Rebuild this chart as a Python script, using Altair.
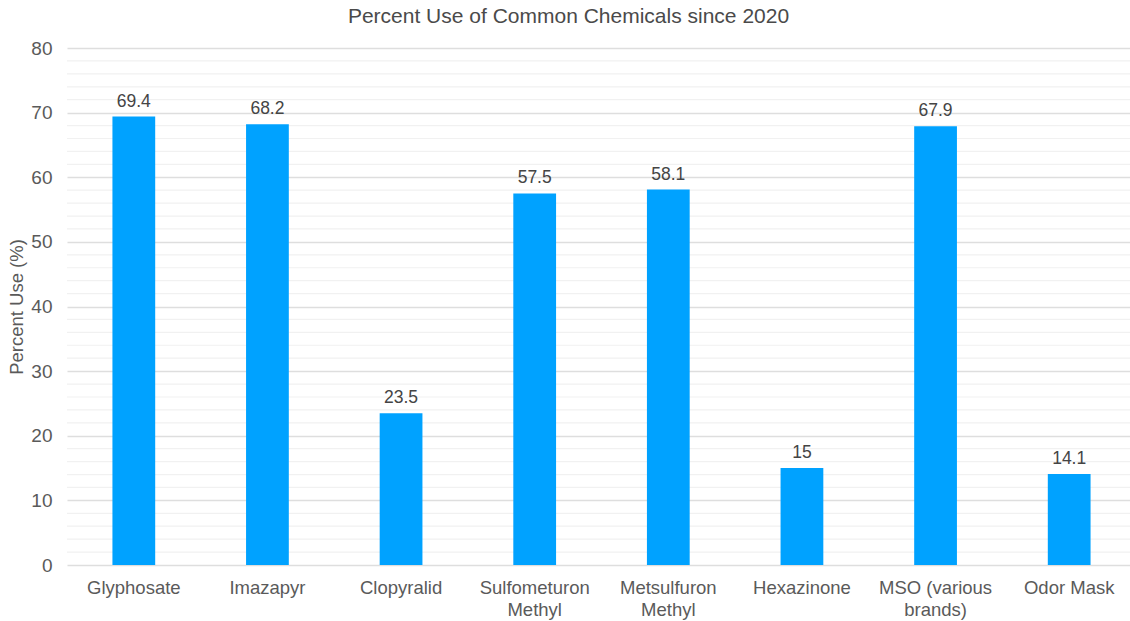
import altair as alt
import pandas as pd

categories = ["Glyphosate", "Imazapyr", "Clopyralid", "Sulfometuron\nMethyl",
              "Metsulfuron\nMethyl", "Hexazinone", "MSO (various\nbrands)", "Odor Mask"]
values = [69.4, 68.2, 23.5, 57.5, 58.1, 15, 67.9, 14.1]
labels = ["69.4", "68.2", "23.5", "57.5", "58.1", "15", "67.9", "14.1"]
major_ticks = list(range(0, 81, 10))
minor_ticks = [v for v in range(2, 80, 2) if v % 10 != 0]

df = pd.DataFrame({"cat": categories, "val": values, "lab": labels})
minor_df = pd.DataFrame({"g": minor_ticks})

FONT = "Liberation Sans"
W = 1063

x = alt.X("cat:N", sort=categories, title=None,
          scale=alt.Scale(range=[0, 1069], paddingInner=0.68, paddingOuter=0.34),
          axis=alt.Axis(labelExpr="split(datum.label, '\\n')", labelAngle=0,
                        labelFontSize=18.5, labelColor="#5a5a5a", labelFont=FONT,
                        ticks=False, domain=False, labelPadding=13, labelLineHeight=22))
yscale = alt.Scale(domain=[0, 80], nice=False)
yaxis = alt.Axis(values=major_ticks, labelOverlap=False,
                 gridColor="#dedede", gridWidth=1.3,
                 ticks=False, domain=False, labelPadding=15,
                 labelFontSize=19, labelColor="#5a5a5a", labelFont=FONT,
                 titleFontSize=18.5, titleColor="#5a5a5a", titleFont=FONT,
                 titleFontWeight="normal", titlePadding=4)

minor = alt.Chart(minor_df).mark_rule(color="#f1f1f1", strokeWidth=1.2).encode(
    y=alt.Y("g:Q", title="Percent Use (%)", scale=yscale, axis=yaxis),
    x=alt.value(0), x2=alt.value(W))
bars = alt.Chart(df).mark_bar(color="#00A2FF").encode(
    x=x, y=alt.Y("val:Q", title="Percent Use (%)", scale=yscale, axis=yaxis))
text = alt.Chart(df).mark_text(dy=-15, fontSize=17.5, color="#444444", font=FONT).encode(
    x=alt.X("cat:N", sort=categories), y="val:Q", text="lab:N")

chart = (minor + bars + text).properties(
    width=W, height=517,
    title=alt.TitleParams("Percent Use of Common Chemicals since 2020", fontSize=21,
                          font=FONT, color="#4a4a4a", fontWeight="normal",
                          anchor="middle", dx=-30, offset=12),
    padding={"left": 67, "top": 48, "right": 0, "bottom": 56},
    autosize=alt.AutoSizeParams(type="none"),
).configure(background="white").configure_view(stroke=None).configure_axis(domain=False)

chart.save("out.html", embed_options={"renderer": "svg", "actions": False})
